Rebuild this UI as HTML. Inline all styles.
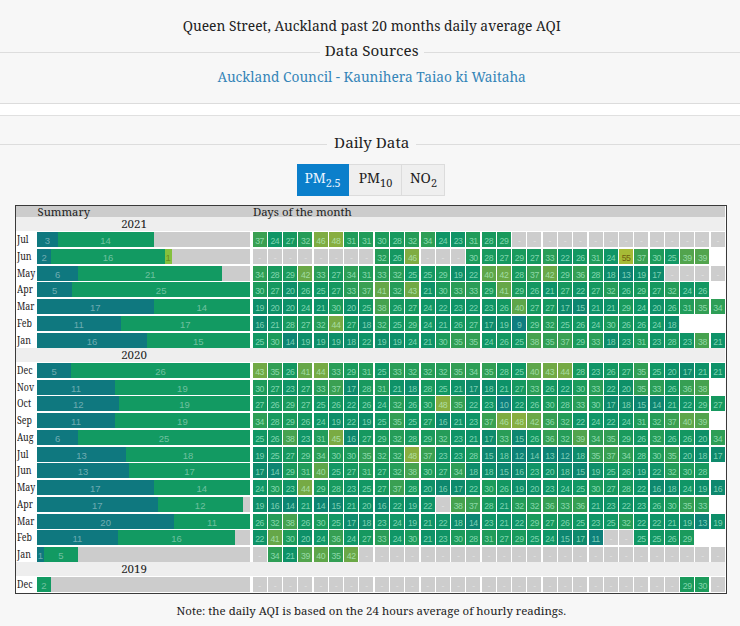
<!DOCTYPE html>
<html><head><meta charset="utf-8">
<style>
html,body{margin:0;padding:0;}
body{width:740px;height:626px;overflow:hidden;position:relative;background:#fff;font-family:"Noto Serif","DejaVu Serif","Liberation Serif",serif;color:#222;}
.p1{position:absolute;left:0;top:0;width:740px;height:102.6px;background:#f7f7f7;border-bottom:1.5px solid #dcdcdc;}
.p2{position:absolute;left:0;top:115px;width:740px;height:520px;background:#f7f7f7;border-top:1.5px solid #e0e0e0;}
.t{position:absolute;left:0.7px;width:742px;text-align:center;white-space:nowrap;line-height:1;}
.hr{position:absolute;height:1px;background:#dddddd;}
.btn{position:absolute;top:164.2px;height:32.2px;box-sizing:border-box;line-height:1;}
.tbl{position:absolute;left:15px;top:204.5px;width:712px;height:389.00px;box-sizing:border-box;border:1.4px solid #3a3a3a;background:#fff;}
.hdr{position:absolute;left:16.40px;top:206.2px;width:708.40px;height:11.10px;background:#cccccc;}
.tbl2 div{position:absolute;box-sizing:border-box;overflow:hidden;white-space:nowrap;}
.yr{background:#eeeeee;font-size:11.5px;line-height:14.6px;}
.yr span{position:absolute;left:104.8px;top:-0.6px;}
.lab{font-size:10.2px;line-height:14.6px;color:#222;overflow:visible!important;}
.fx{display:inline-block;transform-origin:50% 50%;}
.fl{transform:scaleX(0.87);transform-origin:0 50%;}
.fxl{transform-origin:0 50%;}
.sbg{background:#cccccc;}
.seg{font-family:"Liberation Sans",Arial,sans-serif;font-size:9.5px;line-height:18px;text-align:center;color:rgba(255,255,255,0.4);}
.dc{font-family:"Liberation Sans",Arial,sans-serif;font-size:8.7px;letter-spacing:-0.45px;line-height:18.6px;text-align:center;color:rgba(200,255,225,0.6);}
.dc.hi{color:rgba(90,60,0,0.75);}
.dc.miss{background:#cdcdcd;color:#e2e2e2;}
</style></head><body>
<div class="p1"></div>
<div class="p2"></div>
<div class="t" style="top:18.9px;font-size:13.82px;"><span class="fx" id="ttl">Queen Street, Auckland past 20 months daily average AQI</span></div>
<div class="hr" style="left:0;top:52px;width:320px"></div>
<div class="hr" style="left:423.5px;top:52px;width:317px"></div>
<div class="t" style="top:42.8px;font-size:15.2px;"><span class="fx">Data Sources</span></div>
<div class="t" style="top:69.7px;font-size:13.7px;color:#3585b8;"><span class="fx">Auckland Council - Kaunihera Taiao ki Waitaha</span></div>
<div class="hr" style="left:0;top:144.3px;width:326.5px"></div>
<div class="hr" style="left:415.8px;top:144.3px;width:325px"></div>
<div class="t" style="top:135.4px;font-size:15.2px;"><span class="fx">Daily Data</span></div>
<div class="btn" style="left:297.4px;width:51.8px;background:#0b7fcb;color:#eaf4ff;font-size:13.9px;padding:7.1px 0 0 7.0px;"><span class="fx fxl">PM<sub style="font-size:10.9px;vertical-align:-3.5px">2.5</sub></span></div>
<div class="btn" style="left:349.2px;width:52.4px;background:#efefef;border:1px solid #dcdcdc;border-left:none;font-size:13.9px;padding:6.1px 0 0 9.5px;"><span class="fx fxl">PM<sub style="font-size:10.9px;vertical-align:-3.5px">10</sub></span></div>
<div class="btn" style="left:401.6px;width:43.4px;background:#efefef;border:1px solid #dcdcdc;border-left:none;font-size:13.9px;padding:6.1px 0 0 8.4px;"><span class="fx fxl">NO<sub style="font-size:10.9px;vertical-align:-3.5px">2</sub></span></div>
<div class="tbl"></div>
<div class="hdr"></div>
<div class="t" style="z-index:2;left:37.6px;width:auto;top:205.9px;font-size:11.25px;text-align:left"><span class="fx fxl">Summary</span></div>
<div class="t" style="z-index:2;left:252.9px;width:auto;top:205.8px;font-size:11.4px;text-align:left"><span class="fx fxl">Days of the month</span></div>
<div class="tbl2">
<div class="yr" style="left:16.40px;top:217.30px;width:708.40px;height:14.10px;"><span class="fx fxl">2021</span></div>
<div class="lab" style="left:17.20px;top:232.10px;width:20.00px;height:15.00px;"><span class="fx fl">Jul</span></div>
<div class="sbg" style="left:37.00px;top:232.10px;width:212.80px;height:15.00px;"></div>
<div class="seg" style="left:37.00px;top:232.10px;width:20.59px;height:15.00px;background:#0f787f">3</div>
<div class="seg" style="left:57.59px;top:232.10px;width:96.10px;height:15.00px;background:#129a62">14</div>
<div class="dc" style="left:252.60px;top:232.10px;width:14.00px;height:15.00px;background:#3aa052">37</div>
<div class="dc" style="left:267.87px;top:232.10px;width:14.00px;height:15.00px;background:#109666">24</div>
<div class="dc" style="left:283.14px;top:232.10px;width:14.00px;height:15.00px;background:#16985f">27</div>
<div class="dc" style="left:298.41px;top:232.10px;width:14.00px;height:15.00px;background:#259c58">32</div>
<div class="dc" style="left:313.68px;top:232.10px;width:14.00px;height:15.00px;background:#7fac42">46</div>
<div class="dc" style="left:328.95px;top:232.10px;width:14.00px;height:15.00px;background:#88ae40">48</div>
<div class="dc" style="left:344.22px;top:232.10px;width:14.00px;height:15.00px;background:#219c5a">31</div>
<div class="dc" style="left:359.49px;top:232.10px;width:14.00px;height:15.00px;background:#219c5a">31</div>
<div class="dc" style="left:374.76px;top:232.10px;width:14.00px;height:15.00px;background:#1c9b5b">30</div>
<div class="dc" style="left:390.03px;top:232.10px;width:14.00px;height:15.00px;background:#18995e">28</div>
<div class="dc" style="left:405.30px;top:232.10px;width:14.00px;height:15.00px;background:#259c58">32</div>
<div class="dc" style="left:420.57px;top:232.10px;width:14.00px;height:15.00px;background:#2e9e56">34</div>
<div class="dc" style="left:435.84px;top:232.10px;width:14.00px;height:15.00px;background:#109666">24</div>
<div class="dc" style="left:451.11px;top:232.10px;width:14.00px;height:15.00px;background:#109466">23</div>
<div class="dc" style="left:466.38px;top:232.10px;width:14.00px;height:15.00px;background:#219c5a">31</div>
<div class="dc" style="left:481.65px;top:232.10px;width:14.00px;height:15.00px;background:#18995e">28</div>
<div class="dc" style="left:496.92px;top:232.10px;width:14.00px;height:15.00px;background:#1a9a5c">29</div>
<div class="dc miss" style="left:512.19px;top:232.10px;width:14.00px;height:15.00px;">-</div>
<div class="dc miss" style="left:527.46px;top:232.10px;width:14.00px;height:15.00px;">-</div>
<div class="dc miss" style="left:542.73px;top:232.10px;width:14.00px;height:15.00px;">-</div>
<div class="dc miss" style="left:558.00px;top:232.10px;width:14.00px;height:15.00px;">-</div>
<div class="dc miss" style="left:573.27px;top:232.10px;width:14.00px;height:15.00px;">-</div>
<div class="dc miss" style="left:588.54px;top:232.10px;width:14.00px;height:15.00px;">-</div>
<div class="dc miss" style="left:603.81px;top:232.10px;width:14.00px;height:15.00px;">-</div>
<div class="dc miss" style="left:619.08px;top:232.10px;width:14.00px;height:15.00px;">-</div>
<div class="dc miss" style="left:634.35px;top:232.10px;width:14.00px;height:15.00px;">-</div>
<div class="dc miss" style="left:649.62px;top:232.10px;width:14.00px;height:15.00px;">-</div>
<div class="dc miss" style="left:664.89px;top:232.10px;width:14.00px;height:15.00px;">-</div>
<div class="dc miss" style="left:680.16px;top:232.10px;width:14.00px;height:15.00px;">-</div>
<div class="dc miss" style="left:695.43px;top:232.10px;width:14.00px;height:15.00px;">-</div>
<div class="dc miss" style="left:710.70px;top:232.10px;width:14.00px;height:15.00px;">-</div>
<div class="lab" style="left:17.20px;top:248.85px;width:20.00px;height:15.00px;"><span class="fx fl">Jun</span></div>
<div class="sbg" style="left:37.00px;top:248.85px;width:212.80px;height:15.00px;"></div>
<div class="seg" style="left:37.00px;top:248.85px;width:14.19px;height:15.00px;background:#0f787f">2</div>
<div class="seg" style="left:51.19px;top:248.85px;width:113.49px;height:15.00px;background:#129a62">16</div>
<div class="seg" style="left:164.68px;top:248.85px;width:7.09px;height:15.00px;background:#84c03e;color:rgba(90,90,0,0.55)">1</div>
<div class="dc miss" style="left:252.60px;top:248.85px;width:14.00px;height:15.00px;">-</div>
<div class="dc miss" style="left:267.87px;top:248.85px;width:14.00px;height:15.00px;">-</div>
<div class="dc miss" style="left:283.14px;top:248.85px;width:14.00px;height:15.00px;">-</div>
<div class="dc miss" style="left:298.41px;top:248.85px;width:14.00px;height:15.00px;">-</div>
<div class="dc miss" style="left:313.68px;top:248.85px;width:14.00px;height:15.00px;">-</div>
<div class="dc miss" style="left:328.95px;top:248.85px;width:14.00px;height:15.00px;">-</div>
<div class="dc miss" style="left:344.22px;top:248.85px;width:14.00px;height:15.00px;">-</div>
<div class="dc miss" style="left:359.49px;top:248.85px;width:14.00px;height:15.00px;">-</div>
<div class="dc" style="left:374.76px;top:248.85px;width:14.00px;height:15.00px;background:#259c58">32</div>
<div class="dc" style="left:390.03px;top:248.85px;width:14.00px;height:15.00px;background:#149761">26</div>
<div class="dc" style="left:405.30px;top:248.85px;width:14.00px;height:15.00px;background:#7fac42">46</div>
<div class="dc miss" style="left:420.57px;top:248.85px;width:14.00px;height:15.00px;">-</div>
<div class="dc miss" style="left:435.84px;top:248.85px;width:14.00px;height:15.00px;">-</div>
<div class="dc miss" style="left:451.11px;top:248.85px;width:14.00px;height:15.00px;">-</div>
<div class="dc" style="left:466.38px;top:248.85px;width:14.00px;height:15.00px;background:#1c9b5b">30</div>
<div class="dc" style="left:481.65px;top:248.85px;width:14.00px;height:15.00px;background:#18995e">28</div>
<div class="dc" style="left:496.92px;top:248.85px;width:14.00px;height:15.00px;background:#16985f">27</div>
<div class="dc" style="left:512.19px;top:248.85px;width:14.00px;height:15.00px;background:#1a9a5c">29</div>
<div class="dc" style="left:527.46px;top:248.85px;width:14.00px;height:15.00px;background:#16985f">27</div>
<div class="dc" style="left:542.73px;top:248.85px;width:14.00px;height:15.00px;background:#2a9d57">33</div>
<div class="dc" style="left:558.00px;top:248.85px;width:14.00px;height:15.00px;background:#0f9367">22</div>
<div class="dc" style="left:573.27px;top:248.85px;width:14.00px;height:15.00px;background:#149761">26</div>
<div class="dc" style="left:588.54px;top:248.85px;width:14.00px;height:15.00px;background:#219c5a">31</div>
<div class="dc" style="left:603.81px;top:248.85px;width:14.00px;height:15.00px;background:#109666">24</div>
<div class="dc hi" style="left:619.08px;top:248.85px;width:14.00px;height:15.00px;background:#a6ba36">55</div>
<div class="dc" style="left:634.35px;top:248.85px;width:14.00px;height:15.00px;background:#3aa052">37</div>
<div class="dc" style="left:649.62px;top:248.85px;width:14.00px;height:15.00px;background:#1c9b5b">30</div>
<div class="dc" style="left:664.89px;top:248.85px;width:14.00px;height:15.00px;background:#129764">25</div>
<div class="dc" style="left:680.16px;top:248.85px;width:14.00px;height:15.00px;background:#52a44d">39</div>
<div class="dc" style="left:695.43px;top:248.85px;width:14.00px;height:15.00px;background:#52a44d">39</div>
<div class="lab" style="left:17.20px;top:265.60px;width:20.00px;height:15.00px;"><span class="fx fl">May</span></div>
<div class="sbg" style="left:37.00px;top:265.60px;width:212.80px;height:15.00px;"></div>
<div class="seg" style="left:37.00px;top:265.60px;width:41.19px;height:15.00px;background:#0f787f">6</div>
<div class="seg" style="left:78.19px;top:265.60px;width:144.15px;height:15.00px;background:#129a62">21</div>
<div class="dc" style="left:252.60px;top:265.60px;width:14.00px;height:15.00px;background:#2e9e56">34</div>
<div class="dc" style="left:267.87px;top:265.60px;width:14.00px;height:15.00px;background:#18995e">28</div>
<div class="dc" style="left:283.14px;top:265.60px;width:14.00px;height:15.00px;background:#1a9a5c">29</div>
<div class="dc" style="left:298.41px;top:265.60px;width:14.00px;height:15.00px;background:#6ba847">42</div>
<div class="dc" style="left:313.68px;top:265.60px;width:14.00px;height:15.00px;background:#2a9d57">33</div>
<div class="dc" style="left:328.95px;top:265.60px;width:14.00px;height:15.00px;background:#16985f">27</div>
<div class="dc" style="left:344.22px;top:265.60px;width:14.00px;height:15.00px;background:#2e9e56">34</div>
<div class="dc" style="left:359.49px;top:265.60px;width:14.00px;height:15.00px;background:#219c5a">31</div>
<div class="dc" style="left:374.76px;top:265.60px;width:14.00px;height:15.00px;background:#2a9d57">33</div>
<div class="dc" style="left:390.03px;top:265.60px;width:14.00px;height:15.00px;background:#259c58">32</div>
<div class="dc" style="left:405.30px;top:265.60px;width:14.00px;height:15.00px;background:#129764">25</div>
<div class="dc" style="left:420.57px;top:265.60px;width:14.00px;height:15.00px;background:#129764">25</div>
<div class="dc" style="left:435.84px;top:265.60px;width:14.00px;height:15.00px;background:#1a9a5c">29</div>
<div class="dc" style="left:451.11px;top:265.60px;width:14.00px;height:15.00px;background:#0e8e69">19</div>
<div class="dc" style="left:466.38px;top:265.60px;width:14.00px;height:15.00px;background:#0f9367">22</div>
<div class="dc" style="left:481.65px;top:265.60px;width:14.00px;height:15.00px;background:#5ea64a">40</div>
<div class="dc" style="left:496.92px;top:265.60px;width:14.00px;height:15.00px;background:#6ba847">42</div>
<div class="dc" style="left:512.19px;top:265.60px;width:14.00px;height:15.00px;background:#18995e">28</div>
<div class="dc" style="left:527.46px;top:265.60px;width:14.00px;height:15.00px;background:#3aa052">37</div>
<div class="dc" style="left:542.73px;top:265.60px;width:14.00px;height:15.00px;background:#6ba847">42</div>
<div class="dc" style="left:558.00px;top:265.60px;width:14.00px;height:15.00px;background:#1a9a5c">29</div>
<div class="dc" style="left:573.27px;top:265.60px;width:14.00px;height:15.00px;background:#369f53">36</div>
<div class="dc" style="left:588.54px;top:265.60px;width:14.00px;height:15.00px;background:#18995e">28</div>
<div class="dc" style="left:603.81px;top:265.60px;width:14.00px;height:15.00px;background:#0e8c6b">18</div>
<div class="dc" style="left:619.08px;top:265.60px;width:14.00px;height:15.00px;background:#0d8374">13</div>
<div class="dc" style="left:634.35px;top:265.60px;width:14.00px;height:15.00px;background:#0e8e69">19</div>
<div class="dc" style="left:649.62px;top:265.60px;width:14.00px;height:15.00px;background:#0e8a6c">17</div>
<div class="dc miss" style="left:664.89px;top:265.60px;width:14.00px;height:15.00px;">-</div>
<div class="dc miss" style="left:680.16px;top:265.60px;width:14.00px;height:15.00px;">-</div>
<div class="dc miss" style="left:695.43px;top:265.60px;width:14.00px;height:15.00px;">-</div>
<div class="dc miss" style="left:710.70px;top:265.60px;width:14.00px;height:15.00px;">-</div>
<div class="lab" style="left:17.20px;top:282.35px;width:20.00px;height:15.00px;"><span class="fx fl">Apr</span></div>
<div class="sbg" style="left:37.00px;top:282.35px;width:212.80px;height:15.00px;"></div>
<div class="seg" style="left:37.00px;top:282.35px;width:35.47px;height:15.00px;background:#0f787f">5</div>
<div class="seg" style="left:72.47px;top:282.35px;width:177.33px;height:15.00px;background:#129a62">25</div>
<div class="dc" style="left:252.60px;top:282.35px;width:14.00px;height:15.00px;background:#1c9b5b">30</div>
<div class="dc" style="left:267.87px;top:282.35px;width:14.00px;height:15.00px;background:#16985f">27</div>
<div class="dc" style="left:283.14px;top:282.35px;width:14.00px;height:15.00px;background:#0e9068">20</div>
<div class="dc" style="left:298.41px;top:282.35px;width:14.00px;height:15.00px;background:#149761">26</div>
<div class="dc" style="left:313.68px;top:282.35px;width:14.00px;height:15.00px;background:#129764">25</div>
<div class="dc" style="left:328.95px;top:282.35px;width:14.00px;height:15.00px;background:#16985f">27</div>
<div class="dc" style="left:344.22px;top:282.35px;width:14.00px;height:15.00px;background:#2a9d57">33</div>
<div class="dc" style="left:359.49px;top:282.35px;width:14.00px;height:15.00px;background:#3aa052">37</div>
<div class="dc" style="left:374.76px;top:282.35px;width:14.00px;height:15.00px;background:#66a748">41</div>
<div class="dc" style="left:390.03px;top:282.35px;width:14.00px;height:15.00px;background:#259c58">32</div>
<div class="dc" style="left:405.30px;top:282.35px;width:14.00px;height:15.00px;background:#71a945">43</div>
<div class="dc" style="left:420.57px;top:282.35px;width:14.00px;height:15.00px;background:#0e9268">21</div>
<div class="dc" style="left:435.84px;top:282.35px;width:14.00px;height:15.00px;background:#1c9b5b">30</div>
<div class="dc" style="left:451.11px;top:282.35px;width:14.00px;height:15.00px;background:#2a9d57">33</div>
<div class="dc" style="left:466.38px;top:282.35px;width:14.00px;height:15.00px;background:#2a9d57">33</div>
<div class="dc" style="left:481.65px;top:282.35px;width:14.00px;height:15.00px;background:#1a9a5c">29</div>
<div class="dc" style="left:496.92px;top:282.35px;width:14.00px;height:15.00px;background:#66a748">41</div>
<div class="dc" style="left:512.19px;top:282.35px;width:14.00px;height:15.00px;background:#1a9a5c">29</div>
<div class="dc" style="left:527.46px;top:282.35px;width:14.00px;height:15.00px;background:#149761">26</div>
<div class="dc" style="left:542.73px;top:282.35px;width:14.00px;height:15.00px;background:#0e9268">21</div>
<div class="dc" style="left:558.00px;top:282.35px;width:14.00px;height:15.00px;background:#16985f">27</div>
<div class="dc" style="left:573.27px;top:282.35px;width:14.00px;height:15.00px;background:#0f9367">22</div>
<div class="dc" style="left:588.54px;top:282.35px;width:14.00px;height:15.00px;background:#16985f">27</div>
<div class="dc" style="left:603.81px;top:282.35px;width:14.00px;height:15.00px;background:#259c58">32</div>
<div class="dc" style="left:619.08px;top:282.35px;width:14.00px;height:15.00px;background:#149761">26</div>
<div class="dc" style="left:634.35px;top:282.35px;width:14.00px;height:15.00px;background:#1a9a5c">29</div>
<div class="dc" style="left:649.62px;top:282.35px;width:14.00px;height:15.00px;background:#16985f">27</div>
<div class="dc" style="left:664.89px;top:282.35px;width:14.00px;height:15.00px;background:#259c58">32</div>
<div class="dc" style="left:680.16px;top:282.35px;width:14.00px;height:15.00px;background:#109666">24</div>
<div class="dc" style="left:695.43px;top:282.35px;width:14.00px;height:15.00px;background:#149761">26</div>
<div class="lab" style="left:17.20px;top:299.10px;width:20.00px;height:15.00px;"><span class="fx fl">Mar</span></div>
<div class="sbg" style="left:37.00px;top:299.10px;width:212.80px;height:15.00px;"></div>
<div class="seg" style="left:37.00px;top:299.10px;width:116.70px;height:15.00px;background:#0f787f">17</div>
<div class="seg" style="left:153.70px;top:299.10px;width:96.10px;height:15.00px;background:#129a62">14</div>
<div class="dc" style="left:252.60px;top:299.10px;width:14.00px;height:15.00px;background:#0e8e69">19</div>
<div class="dc" style="left:267.87px;top:299.10px;width:14.00px;height:15.00px;background:#0e9068">20</div>
<div class="dc" style="left:283.14px;top:299.10px;width:14.00px;height:15.00px;background:#0e9068">20</div>
<div class="dc" style="left:298.41px;top:299.10px;width:14.00px;height:15.00px;background:#109666">24</div>
<div class="dc" style="left:313.68px;top:299.10px;width:14.00px;height:15.00px;background:#0e9268">21</div>
<div class="dc" style="left:328.95px;top:299.10px;width:14.00px;height:15.00px;background:#1c9b5b">30</div>
<div class="dc" style="left:344.22px;top:299.10px;width:14.00px;height:15.00px;background:#0e9068">20</div>
<div class="dc" style="left:359.49px;top:299.10px;width:14.00px;height:15.00px;background:#129764">25</div>
<div class="dc" style="left:374.76px;top:299.10px;width:14.00px;height:15.00px;background:#46a24f">38</div>
<div class="dc" style="left:390.03px;top:299.10px;width:14.00px;height:15.00px;background:#149761">26</div>
<div class="dc" style="left:405.30px;top:299.10px;width:14.00px;height:15.00px;background:#16985f">27</div>
<div class="dc" style="left:420.57px;top:299.10px;width:14.00px;height:15.00px;background:#109666">24</div>
<div class="dc" style="left:435.84px;top:299.10px;width:14.00px;height:15.00px;background:#0f9367">22</div>
<div class="dc" style="left:451.11px;top:299.10px;width:14.00px;height:15.00px;background:#109466">23</div>
<div class="dc" style="left:466.38px;top:299.10px;width:14.00px;height:15.00px;background:#0f9367">22</div>
<div class="dc" style="left:481.65px;top:299.10px;width:14.00px;height:15.00px;background:#109466">23</div>
<div class="dc" style="left:496.92px;top:299.10px;width:14.00px;height:15.00px;background:#149761">26</div>
<div class="dc" style="left:512.19px;top:299.10px;width:14.00px;height:15.00px;background:#5ea64a">40</div>
<div class="dc" style="left:527.46px;top:299.10px;width:14.00px;height:15.00px;background:#16985f">27</div>
<div class="dc" style="left:542.73px;top:299.10px;width:14.00px;height:15.00px;background:#16985f">27</div>
<div class="dc" style="left:558.00px;top:299.10px;width:14.00px;height:15.00px;background:#0e8a6c">17</div>
<div class="dc" style="left:573.27px;top:299.10px;width:14.00px;height:15.00px;background:#0e8670">15</div>
<div class="dc" style="left:588.54px;top:299.10px;width:14.00px;height:15.00px;background:#0e9268">21</div>
<div class="dc" style="left:603.81px;top:299.10px;width:14.00px;height:15.00px;background:#0e9268">21</div>
<div class="dc" style="left:619.08px;top:299.10px;width:14.00px;height:15.00px;background:#1a9a5c">29</div>
<div class="dc" style="left:634.35px;top:299.10px;width:14.00px;height:15.00px;background:#109666">24</div>
<div class="dc" style="left:649.62px;top:299.10px;width:14.00px;height:15.00px;background:#0e9068">20</div>
<div class="dc" style="left:664.89px;top:299.10px;width:14.00px;height:15.00px;background:#149761">26</div>
<div class="dc" style="left:680.16px;top:299.10px;width:14.00px;height:15.00px;background:#219c5a">31</div>
<div class="dc" style="left:695.43px;top:299.10px;width:14.00px;height:15.00px;background:#329e54">35</div>
<div class="dc" style="left:710.70px;top:299.10px;width:14.00px;height:15.00px;background:#2e9e56">34</div>
<div class="lab" style="left:17.20px;top:315.85px;width:20.00px;height:15.00px;"><span class="fx fl">Feb</span></div>
<div class="sbg" style="left:37.00px;top:315.85px;width:212.80px;height:15.00px;"></div>
<div class="seg" style="left:37.00px;top:315.85px;width:83.60px;height:15.00px;background:#0f787f">11</div>
<div class="seg" style="left:120.60px;top:315.85px;width:129.20px;height:15.00px;background:#129a62">17</div>
<div class="dc" style="left:252.60px;top:315.85px;width:14.00px;height:15.00px;background:#0e886e">16</div>
<div class="dc" style="left:267.87px;top:315.85px;width:14.00px;height:15.00px;background:#0e9268">21</div>
<div class="dc" style="left:283.14px;top:315.85px;width:14.00px;height:15.00px;background:#18995e">28</div>
<div class="dc" style="left:298.41px;top:315.85px;width:14.00px;height:15.00px;background:#16985f">27</div>
<div class="dc" style="left:313.68px;top:315.85px;width:14.00px;height:15.00px;background:#259c58">32</div>
<div class="dc" style="left:328.95px;top:315.85px;width:14.00px;height:15.00px;background:#76aa44">44</div>
<div class="dc" style="left:344.22px;top:315.85px;width:14.00px;height:15.00px;background:#16985f">27</div>
<div class="dc" style="left:359.49px;top:315.85px;width:14.00px;height:15.00px;background:#0e8c6b">18</div>
<div class="dc" style="left:374.76px;top:315.85px;width:14.00px;height:15.00px;background:#259c58">32</div>
<div class="dc" style="left:390.03px;top:315.85px;width:14.00px;height:15.00px;background:#129764">25</div>
<div class="dc" style="left:405.30px;top:315.85px;width:14.00px;height:15.00px;background:#1a9a5c">29</div>
<div class="dc" style="left:420.57px;top:315.85px;width:14.00px;height:15.00px;background:#109666">24</div>
<div class="dc" style="left:435.84px;top:315.85px;width:14.00px;height:15.00px;background:#0e9268">21</div>
<div class="dc" style="left:451.11px;top:315.85px;width:14.00px;height:15.00px;background:#149761">26</div>
<div class="dc" style="left:466.38px;top:315.85px;width:14.00px;height:15.00px;background:#16985f">27</div>
<div class="dc" style="left:481.65px;top:315.85px;width:14.00px;height:15.00px;background:#0e8a6c">17</div>
<div class="dc" style="left:496.92px;top:315.85px;width:14.00px;height:15.00px;background:#0e8e69">19</div>
<div class="dc" style="left:512.19px;top:315.85px;width:14.00px;height:15.00px;background:#0f7d80">9</div>
<div class="dc" style="left:527.46px;top:315.85px;width:14.00px;height:15.00px;background:#1a9a5c">29</div>
<div class="dc" style="left:542.73px;top:315.85px;width:14.00px;height:15.00px;background:#259c58">32</div>
<div class="dc" style="left:558.00px;top:315.85px;width:14.00px;height:15.00px;background:#129764">25</div>
<div class="dc" style="left:573.27px;top:315.85px;width:14.00px;height:15.00px;background:#149761">26</div>
<div class="dc" style="left:588.54px;top:315.85px;width:14.00px;height:15.00px;background:#109666">24</div>
<div class="dc" style="left:603.81px;top:315.85px;width:14.00px;height:15.00px;background:#1c9b5b">30</div>
<div class="dc" style="left:619.08px;top:315.85px;width:14.00px;height:15.00px;background:#149761">26</div>
<div class="dc" style="left:634.35px;top:315.85px;width:14.00px;height:15.00px;background:#149761">26</div>
<div class="dc" style="left:649.62px;top:315.85px;width:14.00px;height:15.00px;background:#109666">24</div>
<div class="dc" style="left:664.89px;top:315.85px;width:14.00px;height:15.00px;background:#0e8c6b">18</div>
<div class="lab" style="left:17.20px;top:332.60px;width:20.00px;height:15.00px;"><span class="fx fl">Jan</span></div>
<div class="sbg" style="left:37.00px;top:332.60px;width:212.80px;height:15.00px;"></div>
<div class="seg" style="left:37.00px;top:332.60px;width:109.83px;height:15.00px;background:#0f787f">16</div>
<div class="seg" style="left:146.83px;top:332.60px;width:102.97px;height:15.00px;background:#129a62">15</div>
<div class="dc" style="left:252.60px;top:332.60px;width:14.00px;height:15.00px;background:#129764">25</div>
<div class="dc" style="left:267.87px;top:332.60px;width:14.00px;height:15.00px;background:#1c9b5b">30</div>
<div class="dc" style="left:283.14px;top:332.60px;width:14.00px;height:15.00px;background:#0d8572">14</div>
<div class="dc" style="left:298.41px;top:332.60px;width:14.00px;height:15.00px;background:#0e8e69">19</div>
<div class="dc" style="left:313.68px;top:332.60px;width:14.00px;height:15.00px;background:#0e8e69">19</div>
<div class="dc" style="left:328.95px;top:332.60px;width:14.00px;height:15.00px;background:#0e8e69">19</div>
<div class="dc" style="left:344.22px;top:332.60px;width:14.00px;height:15.00px;background:#0e8c6b">18</div>
<div class="dc" style="left:359.49px;top:332.60px;width:14.00px;height:15.00px;background:#0f9367">22</div>
<div class="dc" style="left:374.76px;top:332.60px;width:14.00px;height:15.00px;background:#0e8e69">19</div>
<div class="dc" style="left:390.03px;top:332.60px;width:14.00px;height:15.00px;background:#0e8e69">19</div>
<div class="dc" style="left:405.30px;top:332.60px;width:14.00px;height:15.00px;background:#109666">24</div>
<div class="dc" style="left:420.57px;top:332.60px;width:14.00px;height:15.00px;background:#0e9268">21</div>
<div class="dc" style="left:435.84px;top:332.60px;width:14.00px;height:15.00px;background:#1c9b5b">30</div>
<div class="dc" style="left:451.11px;top:332.60px;width:14.00px;height:15.00px;background:#329e54">35</div>
<div class="dc" style="left:466.38px;top:332.60px;width:14.00px;height:15.00px;background:#329e54">35</div>
<div class="dc" style="left:481.65px;top:332.60px;width:14.00px;height:15.00px;background:#109666">24</div>
<div class="dc" style="left:496.92px;top:332.60px;width:14.00px;height:15.00px;background:#149761">26</div>
<div class="dc" style="left:512.19px;top:332.60px;width:14.00px;height:15.00px;background:#129764">25</div>
<div class="dc" style="left:527.46px;top:332.60px;width:14.00px;height:15.00px;background:#46a24f">38</div>
<div class="dc" style="left:542.73px;top:332.60px;width:14.00px;height:15.00px;background:#329e54">35</div>
<div class="dc" style="left:558.00px;top:332.60px;width:14.00px;height:15.00px;background:#3aa052">37</div>
<div class="dc" style="left:573.27px;top:332.60px;width:14.00px;height:15.00px;background:#1a9a5c">29</div>
<div class="dc" style="left:588.54px;top:332.60px;width:14.00px;height:15.00px;background:#2a9d57">33</div>
<div class="dc" style="left:603.81px;top:332.60px;width:14.00px;height:15.00px;background:#0e8c6b">18</div>
<div class="dc" style="left:619.08px;top:332.60px;width:14.00px;height:15.00px;background:#109466">23</div>
<div class="dc" style="left:634.35px;top:332.60px;width:14.00px;height:15.00px;background:#219c5a">31</div>
<div class="dc" style="left:649.62px;top:332.60px;width:14.00px;height:15.00px;background:#109466">23</div>
<div class="dc" style="left:664.89px;top:332.60px;width:14.00px;height:15.00px;background:#18995e">28</div>
<div class="dc" style="left:680.16px;top:332.60px;width:14.00px;height:15.00px;background:#109466">23</div>
<div class="dc" style="left:695.43px;top:332.60px;width:14.00px;height:15.00px;background:#46a24f">38</div>
<div class="dc" style="left:710.70px;top:332.60px;width:14.00px;height:15.00px;background:#0e9268">21</div>
<div class="yr" style="left:16.40px;top:348.30px;width:708.40px;height:13.90px;"><span class="fx fxl">2020</span></div>
<div class="lab" style="left:17.20px;top:362.90px;width:20.00px;height:15.00px;"><span class="fx fl">Dec</span></div>
<div class="sbg" style="left:37.00px;top:362.90px;width:212.80px;height:15.00px;"></div>
<div class="seg" style="left:37.00px;top:362.90px;width:34.32px;height:15.00px;background:#0f787f">5</div>
<div class="seg" style="left:71.32px;top:362.90px;width:178.48px;height:15.00px;background:#129a62">26</div>
<div class="dc" style="left:252.60px;top:362.90px;width:14.00px;height:15.00px;background:#71a945">43</div>
<div class="dc" style="left:267.87px;top:362.90px;width:14.00px;height:15.00px;background:#329e54">35</div>
<div class="dc" style="left:283.14px;top:362.90px;width:14.00px;height:15.00px;background:#149761">26</div>
<div class="dc" style="left:298.41px;top:362.90px;width:14.00px;height:15.00px;background:#66a748">41</div>
<div class="dc" style="left:313.68px;top:362.90px;width:14.00px;height:15.00px;background:#76aa44">44</div>
<div class="dc" style="left:328.95px;top:362.90px;width:14.00px;height:15.00px;background:#2a9d57">33</div>
<div class="dc" style="left:344.22px;top:362.90px;width:14.00px;height:15.00px;background:#1a9a5c">29</div>
<div class="dc" style="left:359.49px;top:362.90px;width:14.00px;height:15.00px;background:#219c5a">31</div>
<div class="dc" style="left:374.76px;top:362.90px;width:14.00px;height:15.00px;background:#129764">25</div>
<div class="dc" style="left:390.03px;top:362.90px;width:14.00px;height:15.00px;background:#2a9d57">33</div>
<div class="dc" style="left:405.30px;top:362.90px;width:14.00px;height:15.00px;background:#259c58">32</div>
<div class="dc" style="left:420.57px;top:362.90px;width:14.00px;height:15.00px;background:#259c58">32</div>
<div class="dc" style="left:435.84px;top:362.90px;width:14.00px;height:15.00px;background:#259c58">32</div>
<div class="dc" style="left:451.11px;top:362.90px;width:14.00px;height:15.00px;background:#329e54">35</div>
<div class="dc" style="left:466.38px;top:362.90px;width:14.00px;height:15.00px;background:#2e9e56">34</div>
<div class="dc" style="left:481.65px;top:362.90px;width:14.00px;height:15.00px;background:#329e54">35</div>
<div class="dc" style="left:496.92px;top:362.90px;width:14.00px;height:15.00px;background:#18995e">28</div>
<div class="dc" style="left:512.19px;top:362.90px;width:14.00px;height:15.00px;background:#129764">25</div>
<div class="dc" style="left:527.46px;top:362.90px;width:14.00px;height:15.00px;background:#5ea64a">40</div>
<div class="dc" style="left:542.73px;top:362.90px;width:14.00px;height:15.00px;background:#71a945">43</div>
<div class="dc" style="left:558.00px;top:362.90px;width:14.00px;height:15.00px;background:#76aa44">44</div>
<div class="dc" style="left:573.27px;top:362.90px;width:14.00px;height:15.00px;background:#18995e">28</div>
<div class="dc" style="left:588.54px;top:362.90px;width:14.00px;height:15.00px;background:#109466">23</div>
<div class="dc" style="left:603.81px;top:362.90px;width:14.00px;height:15.00px;background:#149761">26</div>
<div class="dc" style="left:619.08px;top:362.90px;width:14.00px;height:15.00px;background:#16985f">27</div>
<div class="dc" style="left:634.35px;top:362.90px;width:14.00px;height:15.00px;background:#329e54">35</div>
<div class="dc" style="left:649.62px;top:362.90px;width:14.00px;height:15.00px;background:#129764">25</div>
<div class="dc" style="left:664.89px;top:362.90px;width:14.00px;height:15.00px;background:#0e9068">20</div>
<div class="dc" style="left:680.16px;top:362.90px;width:14.00px;height:15.00px;background:#0e8a6c">17</div>
<div class="dc" style="left:695.43px;top:362.90px;width:14.00px;height:15.00px;background:#0e9268">21</div>
<div class="dc" style="left:710.70px;top:362.90px;width:14.00px;height:15.00px;background:#0e9268">21</div>
<div class="lab" style="left:17.20px;top:379.65px;width:20.00px;height:15.00px;"><span class="fx fl">Nov</span></div>
<div class="sbg" style="left:37.00px;top:379.65px;width:212.80px;height:15.00px;"></div>
<div class="seg" style="left:37.00px;top:379.65px;width:78.03px;height:15.00px;background:#0f787f">11</div>
<div class="seg" style="left:115.03px;top:379.65px;width:134.77px;height:15.00px;background:#129a62">19</div>
<div class="dc" style="left:252.60px;top:379.65px;width:14.00px;height:15.00px;background:#1c9b5b">30</div>
<div class="dc" style="left:267.87px;top:379.65px;width:14.00px;height:15.00px;background:#16985f">27</div>
<div class="dc" style="left:283.14px;top:379.65px;width:14.00px;height:15.00px;background:#109466">23</div>
<div class="dc" style="left:298.41px;top:379.65px;width:14.00px;height:15.00px;background:#16985f">27</div>
<div class="dc" style="left:313.68px;top:379.65px;width:14.00px;height:15.00px;background:#2a9d57">33</div>
<div class="dc" style="left:328.95px;top:379.65px;width:14.00px;height:15.00px;background:#3aa052">37</div>
<div class="dc" style="left:344.22px;top:379.65px;width:14.00px;height:15.00px;background:#0e8a6c">17</div>
<div class="dc" style="left:359.49px;top:379.65px;width:14.00px;height:15.00px;background:#18995e">28</div>
<div class="dc" style="left:374.76px;top:379.65px;width:14.00px;height:15.00px;background:#219c5a">31</div>
<div class="dc" style="left:390.03px;top:379.65px;width:14.00px;height:15.00px;background:#0e9268">21</div>
<div class="dc" style="left:405.30px;top:379.65px;width:14.00px;height:15.00px;background:#0e8c6b">18</div>
<div class="dc" style="left:420.57px;top:379.65px;width:14.00px;height:15.00px;background:#18995e">28</div>
<div class="dc" style="left:435.84px;top:379.65px;width:14.00px;height:15.00px;background:#129764">25</div>
<div class="dc" style="left:451.11px;top:379.65px;width:14.00px;height:15.00px;background:#0e9268">21</div>
<div class="dc" style="left:466.38px;top:379.65px;width:14.00px;height:15.00px;background:#0e8a6c">17</div>
<div class="dc" style="left:481.65px;top:379.65px;width:14.00px;height:15.00px;background:#0e8c6b">18</div>
<div class="dc" style="left:496.92px;top:379.65px;width:14.00px;height:15.00px;background:#0e9268">21</div>
<div class="dc" style="left:512.19px;top:379.65px;width:14.00px;height:15.00px;background:#16985f">27</div>
<div class="dc" style="left:527.46px;top:379.65px;width:14.00px;height:15.00px;background:#2a9d57">33</div>
<div class="dc" style="left:542.73px;top:379.65px;width:14.00px;height:15.00px;background:#149761">26</div>
<div class="dc" style="left:558.00px;top:379.65px;width:14.00px;height:15.00px;background:#0f9367">22</div>
<div class="dc" style="left:573.27px;top:379.65px;width:14.00px;height:15.00px;background:#1c9b5b">30</div>
<div class="dc" style="left:588.54px;top:379.65px;width:14.00px;height:15.00px;background:#2a9d57">33</div>
<div class="dc" style="left:603.81px;top:379.65px;width:14.00px;height:15.00px;background:#0f9367">22</div>
<div class="dc" style="left:619.08px;top:379.65px;width:14.00px;height:15.00px;background:#0e9068">20</div>
<div class="dc" style="left:634.35px;top:379.65px;width:14.00px;height:15.00px;background:#329e54">35</div>
<div class="dc" style="left:649.62px;top:379.65px;width:14.00px;height:15.00px;background:#2a9d57">33</div>
<div class="dc" style="left:664.89px;top:379.65px;width:14.00px;height:15.00px;background:#149761">26</div>
<div class="dc" style="left:680.16px;top:379.65px;width:14.00px;height:15.00px;background:#369f53">36</div>
<div class="dc" style="left:695.43px;top:379.65px;width:14.00px;height:15.00px;background:#46a24f">38</div>
<div class="lab" style="left:17.20px;top:396.40px;width:20.00px;height:15.00px;"><span class="fx fl">Oct</span></div>
<div class="sbg" style="left:37.00px;top:396.40px;width:212.80px;height:15.00px;"></div>
<div class="seg" style="left:37.00px;top:396.40px;width:82.37px;height:15.00px;background:#0f787f">12</div>
<div class="seg" style="left:119.37px;top:396.40px;width:130.43px;height:15.00px;background:#129a62">19</div>
<div class="dc" style="left:252.60px;top:396.40px;width:14.00px;height:15.00px;background:#16985f">27</div>
<div class="dc" style="left:267.87px;top:396.40px;width:14.00px;height:15.00px;background:#149761">26</div>
<div class="dc" style="left:283.14px;top:396.40px;width:14.00px;height:15.00px;background:#1a9a5c">29</div>
<div class="dc" style="left:298.41px;top:396.40px;width:14.00px;height:15.00px;background:#16985f">27</div>
<div class="dc" style="left:313.68px;top:396.40px;width:14.00px;height:15.00px;background:#129764">25</div>
<div class="dc" style="left:328.95px;top:396.40px;width:14.00px;height:15.00px;background:#149761">26</div>
<div class="dc" style="left:344.22px;top:396.40px;width:14.00px;height:15.00px;background:#0f9367">22</div>
<div class="dc" style="left:359.49px;top:396.40px;width:14.00px;height:15.00px;background:#149761">26</div>
<div class="dc" style="left:374.76px;top:396.40px;width:14.00px;height:15.00px;background:#109666">24</div>
<div class="dc" style="left:390.03px;top:396.40px;width:14.00px;height:15.00px;background:#259c58">32</div>
<div class="dc" style="left:405.30px;top:396.40px;width:14.00px;height:15.00px;background:#149761">26</div>
<div class="dc" style="left:420.57px;top:396.40px;width:14.00px;height:15.00px;background:#1c9b5b">30</div>
<div class="dc" style="left:435.84px;top:396.40px;width:14.00px;height:15.00px;background:#88ae40">48</div>
<div class="dc" style="left:451.11px;top:396.40px;width:14.00px;height:15.00px;background:#329e54">35</div>
<div class="dc" style="left:466.38px;top:396.40px;width:14.00px;height:15.00px;background:#0f9367">22</div>
<div class="dc" style="left:481.65px;top:396.40px;width:14.00px;height:15.00px;background:#109466">23</div>
<div class="dc" style="left:496.92px;top:396.40px;width:14.00px;height:15.00px;background:#0e7e7d">10</div>
<div class="dc" style="left:512.19px;top:396.40px;width:14.00px;height:15.00px;background:#0f9367">22</div>
<div class="dc" style="left:527.46px;top:396.40px;width:14.00px;height:15.00px;background:#149761">26</div>
<div class="dc" style="left:542.73px;top:396.40px;width:14.00px;height:15.00px;background:#1c9b5b">30</div>
<div class="dc" style="left:558.00px;top:396.40px;width:14.00px;height:15.00px;background:#18995e">28</div>
<div class="dc" style="left:573.27px;top:396.40px;width:14.00px;height:15.00px;background:#2a9d57">33</div>
<div class="dc" style="left:588.54px;top:396.40px;width:14.00px;height:15.00px;background:#1c9b5b">30</div>
<div class="dc" style="left:603.81px;top:396.40px;width:14.00px;height:15.00px;background:#0e8a6c">17</div>
<div class="dc" style="left:619.08px;top:396.40px;width:14.00px;height:15.00px;background:#0e8c6b">18</div>
<div class="dc" style="left:634.35px;top:396.40px;width:14.00px;height:15.00px;background:#0e8670">15</div>
<div class="dc" style="left:649.62px;top:396.40px;width:14.00px;height:15.00px;background:#0d8572">14</div>
<div class="dc" style="left:664.89px;top:396.40px;width:14.00px;height:15.00px;background:#0e9268">21</div>
<div class="dc" style="left:680.16px;top:396.40px;width:14.00px;height:15.00px;background:#0f9367">22</div>
<div class="dc" style="left:695.43px;top:396.40px;width:14.00px;height:15.00px;background:#1a9a5c">29</div>
<div class="dc" style="left:710.70px;top:396.40px;width:14.00px;height:15.00px;background:#16985f">27</div>
<div class="lab" style="left:17.20px;top:413.15px;width:20.00px;height:15.00px;"><span class="fx fl">Sep</span></div>
<div class="sbg" style="left:37.00px;top:413.15px;width:212.80px;height:15.00px;"></div>
<div class="seg" style="left:37.00px;top:413.15px;width:78.03px;height:15.00px;background:#0f787f">11</div>
<div class="seg" style="left:115.03px;top:413.15px;width:134.77px;height:15.00px;background:#129a62">19</div>
<div class="dc" style="left:252.60px;top:413.15px;width:14.00px;height:15.00px;background:#2e9e56">34</div>
<div class="dc" style="left:267.87px;top:413.15px;width:14.00px;height:15.00px;background:#18995e">28</div>
<div class="dc" style="left:283.14px;top:413.15px;width:14.00px;height:15.00px;background:#1a9a5c">29</div>
<div class="dc" style="left:298.41px;top:413.15px;width:14.00px;height:15.00px;background:#149761">26</div>
<div class="dc" style="left:313.68px;top:413.15px;width:14.00px;height:15.00px;background:#109666">24</div>
<div class="dc" style="left:328.95px;top:413.15px;width:14.00px;height:15.00px;background:#0e8e69">19</div>
<div class="dc" style="left:344.22px;top:413.15px;width:14.00px;height:15.00px;background:#0f9367">22</div>
<div class="dc" style="left:359.49px;top:413.15px;width:14.00px;height:15.00px;background:#0e8e69">19</div>
<div class="dc" style="left:374.76px;top:413.15px;width:14.00px;height:15.00px;background:#129764">25</div>
<div class="dc" style="left:390.03px;top:413.15px;width:14.00px;height:15.00px;background:#329e54">35</div>
<div class="dc" style="left:405.30px;top:413.15px;width:14.00px;height:15.00px;background:#129764">25</div>
<div class="dc" style="left:420.57px;top:413.15px;width:14.00px;height:15.00px;background:#16985f">27</div>
<div class="dc" style="left:435.84px;top:413.15px;width:14.00px;height:15.00px;background:#0e886e">16</div>
<div class="dc" style="left:451.11px;top:413.15px;width:14.00px;height:15.00px;background:#0e9268">21</div>
<div class="dc" style="left:466.38px;top:413.15px;width:14.00px;height:15.00px;background:#109466">23</div>
<div class="dc" style="left:481.65px;top:413.15px;width:14.00px;height:15.00px;background:#3aa052">37</div>
<div class="dc" style="left:496.92px;top:413.15px;width:14.00px;height:15.00px;background:#7fac42">46</div>
<div class="dc" style="left:512.19px;top:413.15px;width:14.00px;height:15.00px;background:#88ae40">48</div>
<div class="dc" style="left:527.46px;top:413.15px;width:14.00px;height:15.00px;background:#6ba847">42</div>
<div class="dc" style="left:542.73px;top:413.15px;width:14.00px;height:15.00px;background:#369f53">36</div>
<div class="dc" style="left:558.00px;top:413.15px;width:14.00px;height:15.00px;background:#259c58">32</div>
<div class="dc" style="left:573.27px;top:413.15px;width:14.00px;height:15.00px;background:#0f9367">22</div>
<div class="dc" style="left:588.54px;top:413.15px;width:14.00px;height:15.00px;background:#109666">24</div>
<div class="dc" style="left:603.81px;top:413.15px;width:14.00px;height:15.00px;background:#0f9367">22</div>
<div class="dc" style="left:619.08px;top:413.15px;width:14.00px;height:15.00px;background:#109666">24</div>
<div class="dc" style="left:634.35px;top:413.15px;width:14.00px;height:15.00px;background:#219c5a">31</div>
<div class="dc" style="left:649.62px;top:413.15px;width:14.00px;height:15.00px;background:#259c58">32</div>
<div class="dc" style="left:664.89px;top:413.15px;width:14.00px;height:15.00px;background:#3aa052">37</div>
<div class="dc" style="left:680.16px;top:413.15px;width:14.00px;height:15.00px;background:#5ea64a">40</div>
<div class="dc" style="left:695.43px;top:413.15px;width:14.00px;height:15.00px;background:#52a44d">39</div>
<div class="lab" style="left:17.20px;top:429.90px;width:20.00px;height:15.00px;"><span class="fx fl">Aug</span></div>
<div class="sbg" style="left:37.00px;top:429.90px;width:212.80px;height:15.00px;"></div>
<div class="seg" style="left:37.00px;top:429.90px;width:41.19px;height:15.00px;background:#0f787f">6</div>
<div class="seg" style="left:78.19px;top:429.90px;width:171.61px;height:15.00px;background:#129a62">25</div>
<div class="dc" style="left:252.60px;top:429.90px;width:14.00px;height:15.00px;background:#129764">25</div>
<div class="dc" style="left:267.87px;top:429.90px;width:14.00px;height:15.00px;background:#149761">26</div>
<div class="dc" style="left:283.14px;top:429.90px;width:14.00px;height:15.00px;background:#46a24f">38</div>
<div class="dc" style="left:298.41px;top:429.90px;width:14.00px;height:15.00px;background:#109466">23</div>
<div class="dc" style="left:313.68px;top:429.90px;width:14.00px;height:15.00px;background:#219c5a">31</div>
<div class="dc" style="left:328.95px;top:429.90px;width:14.00px;height:15.00px;background:#7aab43">45</div>
<div class="dc" style="left:344.22px;top:429.90px;width:14.00px;height:15.00px;background:#0e886e">16</div>
<div class="dc" style="left:359.49px;top:429.90px;width:14.00px;height:15.00px;background:#16985f">27</div>
<div class="dc" style="left:374.76px;top:429.90px;width:14.00px;height:15.00px;background:#1a9a5c">29</div>
<div class="dc" style="left:390.03px;top:429.90px;width:14.00px;height:15.00px;background:#259c58">32</div>
<div class="dc" style="left:405.30px;top:429.90px;width:14.00px;height:15.00px;background:#18995e">28</div>
<div class="dc" style="left:420.57px;top:429.90px;width:14.00px;height:15.00px;background:#1a9a5c">29</div>
<div class="dc" style="left:435.84px;top:429.90px;width:14.00px;height:15.00px;background:#259c58">32</div>
<div class="dc" style="left:451.11px;top:429.90px;width:14.00px;height:15.00px;background:#109466">23</div>
<div class="dc" style="left:466.38px;top:429.90px;width:14.00px;height:15.00px;background:#0e9268">21</div>
<div class="dc" style="left:481.65px;top:429.90px;width:14.00px;height:15.00px;background:#0e8a6c">17</div>
<div class="dc" style="left:496.92px;top:429.90px;width:14.00px;height:15.00px;background:#2a9d57">33</div>
<div class="dc" style="left:512.19px;top:429.90px;width:14.00px;height:15.00px;background:#0e8670">15</div>
<div class="dc" style="left:527.46px;top:429.90px;width:14.00px;height:15.00px;background:#149761">26</div>
<div class="dc" style="left:542.73px;top:429.90px;width:14.00px;height:15.00px;background:#369f53">36</div>
<div class="dc" style="left:558.00px;top:429.90px;width:14.00px;height:15.00px;background:#259c58">32</div>
<div class="dc" style="left:573.27px;top:429.90px;width:14.00px;height:15.00px;background:#52a44d">39</div>
<div class="dc" style="left:588.54px;top:429.90px;width:14.00px;height:15.00px;background:#2e9e56">34</div>
<div class="dc" style="left:603.81px;top:429.90px;width:14.00px;height:15.00px;background:#329e54">35</div>
<div class="dc" style="left:619.08px;top:429.90px;width:14.00px;height:15.00px;background:#1a9a5c">29</div>
<div class="dc" style="left:634.35px;top:429.90px;width:14.00px;height:15.00px;background:#149761">26</div>
<div class="dc" style="left:649.62px;top:429.90px;width:14.00px;height:15.00px;background:#259c58">32</div>
<div class="dc" style="left:664.89px;top:429.90px;width:14.00px;height:15.00px;background:#149761">26</div>
<div class="dc" style="left:680.16px;top:429.90px;width:14.00px;height:15.00px;background:#149761">26</div>
<div class="dc" style="left:695.43px;top:429.90px;width:14.00px;height:15.00px;background:#0e9068">20</div>
<div class="dc" style="left:710.70px;top:429.90px;width:14.00px;height:15.00px;background:#2e9e56">34</div>
<div class="lab" style="left:17.20px;top:446.65px;width:20.00px;height:15.00px;"><span class="fx fl">Jul</span></div>
<div class="sbg" style="left:37.00px;top:446.65px;width:212.80px;height:15.00px;"></div>
<div class="seg" style="left:37.00px;top:446.65px;width:89.24px;height:15.00px;background:#0f787f">13</div>
<div class="seg" style="left:126.24px;top:446.65px;width:123.56px;height:15.00px;background:#129a62">18</div>
<div class="dc" style="left:252.60px;top:446.65px;width:14.00px;height:15.00px;background:#0e8e69">19</div>
<div class="dc" style="left:267.87px;top:446.65px;width:14.00px;height:15.00px;background:#129764">25</div>
<div class="dc" style="left:283.14px;top:446.65px;width:14.00px;height:15.00px;background:#16985f">27</div>
<div class="dc" style="left:298.41px;top:446.65px;width:14.00px;height:15.00px;background:#1a9a5c">29</div>
<div class="dc" style="left:313.68px;top:446.65px;width:14.00px;height:15.00px;background:#2e9e56">34</div>
<div class="dc" style="left:328.95px;top:446.65px;width:14.00px;height:15.00px;background:#1c9b5b">30</div>
<div class="dc" style="left:344.22px;top:446.65px;width:14.00px;height:15.00px;background:#1c9b5b">30</div>
<div class="dc" style="left:359.49px;top:446.65px;width:14.00px;height:15.00px;background:#329e54">35</div>
<div class="dc" style="left:374.76px;top:446.65px;width:14.00px;height:15.00px;background:#259c58">32</div>
<div class="dc" style="left:390.03px;top:446.65px;width:14.00px;height:15.00px;background:#259c58">32</div>
<div class="dc" style="left:405.30px;top:446.65px;width:14.00px;height:15.00px;background:#88ae40">48</div>
<div class="dc" style="left:420.57px;top:446.65px;width:14.00px;height:15.00px;background:#3aa052">37</div>
<div class="dc" style="left:435.84px;top:446.65px;width:14.00px;height:15.00px;background:#109466">23</div>
<div class="dc" style="left:451.11px;top:446.65px;width:14.00px;height:15.00px;background:#109466">23</div>
<div class="dc" style="left:466.38px;top:446.65px;width:14.00px;height:15.00px;background:#18995e">28</div>
<div class="dc" style="left:481.65px;top:446.65px;width:14.00px;height:15.00px;background:#0e8670">15</div>
<div class="dc" style="left:496.92px;top:446.65px;width:14.00px;height:15.00px;background:#0e8c6b">18</div>
<div class="dc" style="left:512.19px;top:446.65px;width:14.00px;height:15.00px;background:#0e8277">12</div>
<div class="dc" style="left:527.46px;top:446.65px;width:14.00px;height:15.00px;background:#0d8572">14</div>
<div class="dc" style="left:542.73px;top:446.65px;width:14.00px;height:15.00px;background:#0d8374">13</div>
<div class="dc" style="left:558.00px;top:446.65px;width:14.00px;height:15.00px;background:#0e8277">12</div>
<div class="dc" style="left:573.27px;top:446.65px;width:14.00px;height:15.00px;background:#0e8c6b">18</div>
<div class="dc" style="left:588.54px;top:446.65px;width:14.00px;height:15.00px;background:#329e54">35</div>
<div class="dc" style="left:603.81px;top:446.65px;width:14.00px;height:15.00px;background:#3aa052">37</div>
<div class="dc" style="left:619.08px;top:446.65px;width:14.00px;height:15.00px;background:#2e9e56">34</div>
<div class="dc" style="left:634.35px;top:446.65px;width:14.00px;height:15.00px;background:#18995e">28</div>
<div class="dc" style="left:649.62px;top:446.65px;width:14.00px;height:15.00px;background:#1c9b5b">30</div>
<div class="dc" style="left:664.89px;top:446.65px;width:14.00px;height:15.00px;background:#329e54">35</div>
<div class="dc" style="left:680.16px;top:446.65px;width:14.00px;height:15.00px;background:#0e9068">20</div>
<div class="dc" style="left:695.43px;top:446.65px;width:14.00px;height:15.00px;background:#0e8c6b">18</div>
<div class="dc" style="left:710.70px;top:446.65px;width:14.00px;height:15.00px;background:#0e8a6c">17</div>
<div class="lab" style="left:17.20px;top:463.40px;width:20.00px;height:15.00px;"><span class="fx fl">Jun</span></div>
<div class="sbg" style="left:37.00px;top:463.40px;width:212.80px;height:15.00px;"></div>
<div class="seg" style="left:37.00px;top:463.40px;width:92.21px;height:15.00px;background:#0f787f">13</div>
<div class="seg" style="left:129.21px;top:463.40px;width:120.59px;height:15.00px;background:#129a62">17</div>
<div class="dc" style="left:252.60px;top:463.40px;width:14.00px;height:15.00px;background:#0e8a6c">17</div>
<div class="dc" style="left:267.87px;top:463.40px;width:14.00px;height:15.00px;background:#0d8572">14</div>
<div class="dc" style="left:283.14px;top:463.40px;width:14.00px;height:15.00px;background:#1a9a5c">29</div>
<div class="dc" style="left:298.41px;top:463.40px;width:14.00px;height:15.00px;background:#219c5a">31</div>
<div class="dc" style="left:313.68px;top:463.40px;width:14.00px;height:15.00px;background:#5ea64a">40</div>
<div class="dc" style="left:328.95px;top:463.40px;width:14.00px;height:15.00px;background:#129764">25</div>
<div class="dc" style="left:344.22px;top:463.40px;width:14.00px;height:15.00px;background:#16985f">27</div>
<div class="dc" style="left:359.49px;top:463.40px;width:14.00px;height:15.00px;background:#219c5a">31</div>
<div class="dc" style="left:374.76px;top:463.40px;width:14.00px;height:15.00px;background:#16985f">27</div>
<div class="dc" style="left:390.03px;top:463.40px;width:14.00px;height:15.00px;background:#259c58">32</div>
<div class="dc" style="left:405.30px;top:463.40px;width:14.00px;height:15.00px;background:#46a24f">38</div>
<div class="dc" style="left:420.57px;top:463.40px;width:14.00px;height:15.00px;background:#1c9b5b">30</div>
<div class="dc" style="left:435.84px;top:463.40px;width:14.00px;height:15.00px;background:#16985f">27</div>
<div class="dc" style="left:451.11px;top:463.40px;width:14.00px;height:15.00px;background:#2e9e56">34</div>
<div class="dc" style="left:466.38px;top:463.40px;width:14.00px;height:15.00px;background:#0e8c6b">18</div>
<div class="dc" style="left:481.65px;top:463.40px;width:14.00px;height:15.00px;background:#0e8c6b">18</div>
<div class="dc" style="left:496.92px;top:463.40px;width:14.00px;height:15.00px;background:#0e8670">15</div>
<div class="dc" style="left:512.19px;top:463.40px;width:14.00px;height:15.00px;background:#0e886e">16</div>
<div class="dc" style="left:527.46px;top:463.40px;width:14.00px;height:15.00px;background:#109466">23</div>
<div class="dc" style="left:542.73px;top:463.40px;width:14.00px;height:15.00px;background:#0e9068">20</div>
<div class="dc" style="left:558.00px;top:463.40px;width:14.00px;height:15.00px;background:#0e8c6b">18</div>
<div class="dc" style="left:573.27px;top:463.40px;width:14.00px;height:15.00px;background:#0e8670">15</div>
<div class="dc" style="left:588.54px;top:463.40px;width:14.00px;height:15.00px;background:#0e8e69">19</div>
<div class="dc" style="left:603.81px;top:463.40px;width:14.00px;height:15.00px;background:#129764">25</div>
<div class="dc" style="left:619.08px;top:463.40px;width:14.00px;height:15.00px;background:#149761">26</div>
<div class="dc" style="left:634.35px;top:463.40px;width:14.00px;height:15.00px;background:#0e8e69">19</div>
<div class="dc" style="left:649.62px;top:463.40px;width:14.00px;height:15.00px;background:#0f9367">22</div>
<div class="dc" style="left:664.89px;top:463.40px;width:14.00px;height:15.00px;background:#259c58">32</div>
<div class="dc" style="left:680.16px;top:463.40px;width:14.00px;height:15.00px;background:#1c9b5b">30</div>
<div class="dc" style="left:695.43px;top:463.40px;width:14.00px;height:15.00px;background:#18995e">28</div>
<div class="lab" style="left:17.20px;top:480.15px;width:20.00px;height:15.00px;"><span class="fx fl">May</span></div>
<div class="sbg" style="left:37.00px;top:480.15px;width:212.80px;height:15.00px;"></div>
<div class="seg" style="left:37.00px;top:480.15px;width:116.70px;height:15.00px;background:#0f787f">17</div>
<div class="seg" style="left:153.70px;top:480.15px;width:96.10px;height:15.00px;background:#129a62">14</div>
<div class="dc" style="left:252.60px;top:480.15px;width:14.00px;height:15.00px;background:#109666">24</div>
<div class="dc" style="left:267.87px;top:480.15px;width:14.00px;height:15.00px;background:#1c9b5b">30</div>
<div class="dc" style="left:283.14px;top:480.15px;width:14.00px;height:15.00px;background:#109466">23</div>
<div class="dc" style="left:298.41px;top:480.15px;width:14.00px;height:15.00px;background:#76aa44">44</div>
<div class="dc" style="left:313.68px;top:480.15px;width:14.00px;height:15.00px;background:#1a9a5c">29</div>
<div class="dc" style="left:328.95px;top:480.15px;width:14.00px;height:15.00px;background:#18995e">28</div>
<div class="dc" style="left:344.22px;top:480.15px;width:14.00px;height:15.00px;background:#109466">23</div>
<div class="dc" style="left:359.49px;top:480.15px;width:14.00px;height:15.00px;background:#129764">25</div>
<div class="dc" style="left:374.76px;top:480.15px;width:14.00px;height:15.00px;background:#16985f">27</div>
<div class="dc" style="left:390.03px;top:480.15px;width:14.00px;height:15.00px;background:#3aa052">37</div>
<div class="dc" style="left:405.30px;top:480.15px;width:14.00px;height:15.00px;background:#18995e">28</div>
<div class="dc" style="left:420.57px;top:480.15px;width:14.00px;height:15.00px;background:#0e9068">20</div>
<div class="dc" style="left:435.84px;top:480.15px;width:14.00px;height:15.00px;background:#0e886e">16</div>
<div class="dc" style="left:451.11px;top:480.15px;width:14.00px;height:15.00px;background:#0e8a6c">17</div>
<div class="dc" style="left:466.38px;top:480.15px;width:14.00px;height:15.00px;background:#0f9367">22</div>
<div class="dc" style="left:481.65px;top:480.15px;width:14.00px;height:15.00px;background:#1c9b5b">30</div>
<div class="dc" style="left:496.92px;top:480.15px;width:14.00px;height:15.00px;background:#149761">26</div>
<div class="dc" style="left:512.19px;top:480.15px;width:14.00px;height:15.00px;background:#0e8e69">19</div>
<div class="dc" style="left:527.46px;top:480.15px;width:14.00px;height:15.00px;background:#0e9068">20</div>
<div class="dc" style="left:542.73px;top:480.15px;width:14.00px;height:15.00px;background:#109466">23</div>
<div class="dc" style="left:558.00px;top:480.15px;width:14.00px;height:15.00px;background:#109666">24</div>
<div class="dc" style="left:573.27px;top:480.15px;width:14.00px;height:15.00px;background:#129764">25</div>
<div class="dc" style="left:588.54px;top:480.15px;width:14.00px;height:15.00px;background:#1c9b5b">30</div>
<div class="dc" style="left:603.81px;top:480.15px;width:14.00px;height:15.00px;background:#16985f">27</div>
<div class="dc" style="left:619.08px;top:480.15px;width:14.00px;height:15.00px;background:#18995e">28</div>
<div class="dc" style="left:634.35px;top:480.15px;width:14.00px;height:15.00px;background:#0f9367">22</div>
<div class="dc" style="left:649.62px;top:480.15px;width:14.00px;height:15.00px;background:#0e886e">16</div>
<div class="dc" style="left:664.89px;top:480.15px;width:14.00px;height:15.00px;background:#0e8c6b">18</div>
<div class="dc" style="left:680.16px;top:480.15px;width:14.00px;height:15.00px;background:#109666">24</div>
<div class="dc" style="left:695.43px;top:480.15px;width:14.00px;height:15.00px;background:#0e8e69">19</div>
<div class="dc" style="left:710.70px;top:480.15px;width:14.00px;height:15.00px;background:#0e886e">16</div>
<div class="lab" style="left:17.20px;top:496.90px;width:20.00px;height:15.00px;"><span class="fx fl">Apr</span></div>
<div class="sbg" style="left:37.00px;top:496.90px;width:212.80px;height:15.00px;"></div>
<div class="seg" style="left:37.00px;top:496.90px;width:120.59px;height:15.00px;background:#0f787f">17</div>
<div class="seg" style="left:157.59px;top:496.90px;width:85.12px;height:15.00px;background:#129a62">12</div>
<div class="dc" style="left:252.60px;top:496.90px;width:14.00px;height:15.00px;background:#0e8e69">19</div>
<div class="dc" style="left:267.87px;top:496.90px;width:14.00px;height:15.00px;background:#0e886e">16</div>
<div class="dc" style="left:283.14px;top:496.90px;width:14.00px;height:15.00px;background:#0d8572">14</div>
<div class="dc" style="left:298.41px;top:496.90px;width:14.00px;height:15.00px;background:#0e9268">21</div>
<div class="dc" style="left:313.68px;top:496.90px;width:14.00px;height:15.00px;background:#0d8572">14</div>
<div class="dc" style="left:328.95px;top:496.90px;width:14.00px;height:15.00px;background:#0e8670">15</div>
<div class="dc" style="left:344.22px;top:496.90px;width:14.00px;height:15.00px;background:#0e9268">21</div>
<div class="dc" style="left:359.49px;top:496.90px;width:14.00px;height:15.00px;background:#0e9068">20</div>
<div class="dc" style="left:374.76px;top:496.90px;width:14.00px;height:15.00px;background:#0e886e">16</div>
<div class="dc" style="left:390.03px;top:496.90px;width:14.00px;height:15.00px;background:#0f9367">22</div>
<div class="dc" style="left:405.30px;top:496.90px;width:14.00px;height:15.00px;background:#0e8e69">19</div>
<div class="dc" style="left:420.57px;top:496.90px;width:14.00px;height:15.00px;background:#0f9367">22</div>
<div class="dc miss" style="left:435.84px;top:496.90px;width:14.00px;height:15.00px;">-</div>
<div class="dc" style="left:451.11px;top:496.90px;width:14.00px;height:15.00px;background:#46a24f">38</div>
<div class="dc" style="left:466.38px;top:496.90px;width:14.00px;height:15.00px;background:#3aa052">37</div>
<div class="dc" style="left:481.65px;top:496.90px;width:14.00px;height:15.00px;background:#18995e">28</div>
<div class="dc" style="left:496.92px;top:496.90px;width:14.00px;height:15.00px;background:#0e9268">21</div>
<div class="dc" style="left:512.19px;top:496.90px;width:14.00px;height:15.00px;background:#259c58">32</div>
<div class="dc" style="left:527.46px;top:496.90px;width:14.00px;height:15.00px;background:#259c58">32</div>
<div class="dc" style="left:542.73px;top:496.90px;width:14.00px;height:15.00px;background:#369f53">36</div>
<div class="dc" style="left:558.00px;top:496.90px;width:14.00px;height:15.00px;background:#2a9d57">33</div>
<div class="dc" style="left:573.27px;top:496.90px;width:14.00px;height:15.00px;background:#369f53">36</div>
<div class="dc" style="left:588.54px;top:496.90px;width:14.00px;height:15.00px;background:#0e9268">21</div>
<div class="dc" style="left:603.81px;top:496.90px;width:14.00px;height:15.00px;background:#109466">23</div>
<div class="dc" style="left:619.08px;top:496.90px;width:14.00px;height:15.00px;background:#0f9367">22</div>
<div class="dc" style="left:634.35px;top:496.90px;width:14.00px;height:15.00px;background:#109466">23</div>
<div class="dc" style="left:649.62px;top:496.90px;width:14.00px;height:15.00px;background:#149761">26</div>
<div class="dc" style="left:664.89px;top:496.90px;width:14.00px;height:15.00px;background:#1c9b5b">30</div>
<div class="dc" style="left:680.16px;top:496.90px;width:14.00px;height:15.00px;background:#329e54">35</div>
<div class="dc" style="left:695.43px;top:496.90px;width:14.00px;height:15.00px;background:#2a9d57">33</div>
<div class="lab" style="left:17.20px;top:513.65px;width:20.00px;height:15.00px;"><span class="fx fl">Mar</span></div>
<div class="sbg" style="left:37.00px;top:513.65px;width:212.80px;height:15.00px;"></div>
<div class="seg" style="left:37.00px;top:513.65px;width:137.29px;height:15.00px;background:#0f787f">20</div>
<div class="seg" style="left:174.29px;top:513.65px;width:75.51px;height:15.00px;background:#129a62">11</div>
<div class="dc" style="left:252.60px;top:513.65px;width:14.00px;height:15.00px;background:#149761">26</div>
<div class="dc" style="left:267.87px;top:513.65px;width:14.00px;height:15.00px;background:#259c58">32</div>
<div class="dc" style="left:283.14px;top:513.65px;width:14.00px;height:15.00px;background:#46a24f">38</div>
<div class="dc" style="left:298.41px;top:513.65px;width:14.00px;height:15.00px;background:#149761">26</div>
<div class="dc" style="left:313.68px;top:513.65px;width:14.00px;height:15.00px;background:#1c9b5b">30</div>
<div class="dc" style="left:328.95px;top:513.65px;width:14.00px;height:15.00px;background:#129764">25</div>
<div class="dc" style="left:344.22px;top:513.65px;width:14.00px;height:15.00px;background:#0e8a6c">17</div>
<div class="dc" style="left:359.49px;top:513.65px;width:14.00px;height:15.00px;background:#0e8c6b">18</div>
<div class="dc" style="left:374.76px;top:513.65px;width:14.00px;height:15.00px;background:#109466">23</div>
<div class="dc" style="left:390.03px;top:513.65px;width:14.00px;height:15.00px;background:#109666">24</div>
<div class="dc" style="left:405.30px;top:513.65px;width:14.00px;height:15.00px;background:#0e8e69">19</div>
<div class="dc" style="left:420.57px;top:513.65px;width:14.00px;height:15.00px;background:#0e9268">21</div>
<div class="dc" style="left:435.84px;top:513.65px;width:14.00px;height:15.00px;background:#0f9367">22</div>
<div class="dc" style="left:451.11px;top:513.65px;width:14.00px;height:15.00px;background:#0e8c6b">18</div>
<div class="dc" style="left:466.38px;top:513.65px;width:14.00px;height:15.00px;background:#0d8572">14</div>
<div class="dc" style="left:481.65px;top:513.65px;width:14.00px;height:15.00px;background:#109466">23</div>
<div class="dc" style="left:496.92px;top:513.65px;width:14.00px;height:15.00px;background:#0e9268">21</div>
<div class="dc" style="left:512.19px;top:513.65px;width:14.00px;height:15.00px;background:#0f9367">22</div>
<div class="dc" style="left:527.46px;top:513.65px;width:14.00px;height:15.00px;background:#1a9a5c">29</div>
<div class="dc" style="left:542.73px;top:513.65px;width:14.00px;height:15.00px;background:#16985f">27</div>
<div class="dc" style="left:558.00px;top:513.65px;width:14.00px;height:15.00px;background:#149761">26</div>
<div class="dc" style="left:573.27px;top:513.65px;width:14.00px;height:15.00px;background:#129764">25</div>
<div class="dc" style="left:588.54px;top:513.65px;width:14.00px;height:15.00px;background:#109466">23</div>
<div class="dc" style="left:603.81px;top:513.65px;width:14.00px;height:15.00px;background:#129764">25</div>
<div class="dc" style="left:619.08px;top:513.65px;width:14.00px;height:15.00px;background:#259c58">32</div>
<div class="dc" style="left:634.35px;top:513.65px;width:14.00px;height:15.00px;background:#0f9367">22</div>
<div class="dc" style="left:649.62px;top:513.65px;width:14.00px;height:15.00px;background:#0f9367">22</div>
<div class="dc" style="left:664.89px;top:513.65px;width:14.00px;height:15.00px;background:#0e9268">21</div>
<div class="dc" style="left:680.16px;top:513.65px;width:14.00px;height:15.00px;background:#0e8e69">19</div>
<div class="dc" style="left:695.43px;top:513.65px;width:14.00px;height:15.00px;background:#0d8374">13</div>
<div class="dc" style="left:710.70px;top:513.65px;width:14.00px;height:15.00px;background:#0e8e69">19</div>
<div class="lab" style="left:17.20px;top:530.40px;width:20.00px;height:15.00px;"><span class="fx fl">Feb</span></div>
<div class="sbg" style="left:37.00px;top:530.40px;width:212.80px;height:15.00px;"></div>
<div class="seg" style="left:37.00px;top:530.40px;width:80.72px;height:15.00px;background:#0f787f">11</div>
<div class="seg" style="left:117.72px;top:530.40px;width:117.41px;height:15.00px;background:#129a62">16</div>
<div class="dc" style="left:252.60px;top:530.40px;width:14.00px;height:15.00px;background:#0f9367">22</div>
<div class="dc" style="left:267.87px;top:530.40px;width:14.00px;height:15.00px;background:#66a748">41</div>
<div class="dc" style="left:283.14px;top:530.40px;width:14.00px;height:15.00px;background:#1c9b5b">30</div>
<div class="dc" style="left:298.41px;top:530.40px;width:14.00px;height:15.00px;background:#0e9068">20</div>
<div class="dc" style="left:313.68px;top:530.40px;width:14.00px;height:15.00px;background:#109666">24</div>
<div class="dc" style="left:328.95px;top:530.40px;width:14.00px;height:15.00px;background:#369f53">36</div>
<div class="dc" style="left:344.22px;top:530.40px;width:14.00px;height:15.00px;background:#109666">24</div>
<div class="dc" style="left:359.49px;top:530.40px;width:14.00px;height:15.00px;background:#16985f">27</div>
<div class="dc" style="left:374.76px;top:530.40px;width:14.00px;height:15.00px;background:#2a9d57">33</div>
<div class="dc" style="left:390.03px;top:530.40px;width:14.00px;height:15.00px;background:#109666">24</div>
<div class="dc" style="left:405.30px;top:530.40px;width:14.00px;height:15.00px;background:#1c9b5b">30</div>
<div class="dc" style="left:420.57px;top:530.40px;width:14.00px;height:15.00px;background:#0e9268">21</div>
<div class="dc" style="left:435.84px;top:530.40px;width:14.00px;height:15.00px;background:#109466">23</div>
<div class="dc" style="left:451.11px;top:530.40px;width:14.00px;height:15.00px;background:#1c9b5b">30</div>
<div class="dc" style="left:466.38px;top:530.40px;width:14.00px;height:15.00px;background:#18995e">28</div>
<div class="dc" style="left:481.65px;top:530.40px;width:14.00px;height:15.00px;background:#219c5a">31</div>
<div class="dc" style="left:496.92px;top:530.40px;width:14.00px;height:15.00px;background:#16985f">27</div>
<div class="dc" style="left:512.19px;top:530.40px;width:14.00px;height:15.00px;background:#1a9a5c">29</div>
<div class="dc" style="left:527.46px;top:530.40px;width:14.00px;height:15.00px;background:#129764">25</div>
<div class="dc" style="left:542.73px;top:530.40px;width:14.00px;height:15.00px;background:#109666">24</div>
<div class="dc" style="left:558.00px;top:530.40px;width:14.00px;height:15.00px;background:#0e8670">15</div>
<div class="dc" style="left:573.27px;top:530.40px;width:14.00px;height:15.00px;background:#0e8a6c">17</div>
<div class="dc" style="left:588.54px;top:530.40px;width:14.00px;height:15.00px;background:#0e807a">11</div>
<div class="dc miss" style="left:603.81px;top:530.40px;width:14.00px;height:15.00px;">-</div>
<div class="dc miss" style="left:619.08px;top:530.40px;width:14.00px;height:15.00px;">-</div>
<div class="dc" style="left:634.35px;top:530.40px;width:14.00px;height:15.00px;background:#129764">25</div>
<div class="dc" style="left:649.62px;top:530.40px;width:14.00px;height:15.00px;background:#129764">25</div>
<div class="dc" style="left:664.89px;top:530.40px;width:14.00px;height:15.00px;background:#149761">26</div>
<div class="dc" style="left:680.16px;top:530.40px;width:14.00px;height:15.00px;background:#1a9a5c">29</div>
<div class="lab" style="left:17.20px;top:547.15px;width:20.00px;height:15.00px;"><span class="fx fl">Jan</span></div>
<div class="sbg" style="left:37.00px;top:547.15px;width:212.80px;height:15.00px;"></div>
<div class="seg" style="left:37.00px;top:547.15px;width:6.86px;height:15.00px;background:#0f787f">1</div>
<div class="seg" style="left:43.86px;top:547.15px;width:34.32px;height:15.00px;background:#129a62">5</div>
<div class="dc miss" style="left:252.60px;top:547.15px;width:14.00px;height:15.00px;">-</div>
<div class="dc" style="left:267.87px;top:547.15px;width:14.00px;height:15.00px;background:#2e9e56">34</div>
<div class="dc" style="left:283.14px;top:547.15px;width:14.00px;height:15.00px;background:#0e9268">21</div>
<div class="dc" style="left:298.41px;top:547.15px;width:14.00px;height:15.00px;background:#52a44d">39</div>
<div class="dc" style="left:313.68px;top:547.15px;width:14.00px;height:15.00px;background:#5ea64a">40</div>
<div class="dc" style="left:328.95px;top:547.15px;width:14.00px;height:15.00px;background:#329e54">35</div>
<div class="dc" style="left:344.22px;top:547.15px;width:14.00px;height:15.00px;background:#6ba847">42</div>
<div class="dc miss" style="left:359.49px;top:547.15px;width:14.00px;height:15.00px;">-</div>
<div class="dc miss" style="left:374.76px;top:547.15px;width:14.00px;height:15.00px;">-</div>
<div class="dc miss" style="left:390.03px;top:547.15px;width:14.00px;height:15.00px;">-</div>
<div class="dc miss" style="left:405.30px;top:547.15px;width:14.00px;height:15.00px;">-</div>
<div class="dc miss" style="left:420.57px;top:547.15px;width:14.00px;height:15.00px;">-</div>
<div class="dc miss" style="left:435.84px;top:547.15px;width:14.00px;height:15.00px;">-</div>
<div class="dc miss" style="left:451.11px;top:547.15px;width:14.00px;height:15.00px;">-</div>
<div class="dc miss" style="left:466.38px;top:547.15px;width:14.00px;height:15.00px;">-</div>
<div class="dc miss" style="left:481.65px;top:547.15px;width:14.00px;height:15.00px;">-</div>
<div class="dc miss" style="left:496.92px;top:547.15px;width:14.00px;height:15.00px;">-</div>
<div class="dc miss" style="left:512.19px;top:547.15px;width:14.00px;height:15.00px;">-</div>
<div class="dc miss" style="left:527.46px;top:547.15px;width:14.00px;height:15.00px;">-</div>
<div class="dc miss" style="left:542.73px;top:547.15px;width:14.00px;height:15.00px;">-</div>
<div class="dc miss" style="left:558.00px;top:547.15px;width:14.00px;height:15.00px;">-</div>
<div class="dc miss" style="left:573.27px;top:547.15px;width:14.00px;height:15.00px;">-</div>
<div class="dc miss" style="left:588.54px;top:547.15px;width:14.00px;height:15.00px;">-</div>
<div class="dc miss" style="left:603.81px;top:547.15px;width:14.00px;height:15.00px;">-</div>
<div class="dc miss" style="left:619.08px;top:547.15px;width:14.00px;height:15.00px;">-</div>
<div class="dc miss" style="left:634.35px;top:547.15px;width:14.00px;height:15.00px;">-</div>
<div class="dc miss" style="left:649.62px;top:547.15px;width:14.00px;height:15.00px;">-</div>
<div class="dc miss" style="left:664.89px;top:547.15px;width:14.00px;height:15.00px;">-</div>
<div class="dc miss" style="left:680.16px;top:547.15px;width:14.00px;height:15.00px;">-</div>
<div class="dc miss" style="left:695.43px;top:547.15px;width:14.00px;height:15.00px;">-</div>
<div class="dc miss" style="left:710.70px;top:547.15px;width:14.00px;height:15.00px;">-</div>
<div class="yr" style="left:16.40px;top:562.30px;width:708.40px;height:13.60px;"><span class="fx fxl">2019</span></div>
<div class="lab" style="left:17.20px;top:576.60px;width:20.00px;height:15.00px;"><span class="fx fl">Dec</span></div>
<div class="sbg" style="left:37.00px;top:576.60px;width:212.80px;height:15.00px;"></div>
<div class="seg" style="left:37.00px;top:576.60px;width:13.73px;height:15.00px;background:#129a62">2</div>
<div class="dc miss" style="left:252.60px;top:576.60px;width:14.00px;height:15.00px;">-</div>
<div class="dc miss" style="left:267.87px;top:576.60px;width:14.00px;height:15.00px;">-</div>
<div class="dc miss" style="left:283.14px;top:576.60px;width:14.00px;height:15.00px;">-</div>
<div class="dc miss" style="left:298.41px;top:576.60px;width:14.00px;height:15.00px;">-</div>
<div class="dc miss" style="left:313.68px;top:576.60px;width:14.00px;height:15.00px;">-</div>
<div class="dc miss" style="left:328.95px;top:576.60px;width:14.00px;height:15.00px;">-</div>
<div class="dc miss" style="left:344.22px;top:576.60px;width:14.00px;height:15.00px;">-</div>
<div class="dc miss" style="left:359.49px;top:576.60px;width:14.00px;height:15.00px;">-</div>
<div class="dc miss" style="left:374.76px;top:576.60px;width:14.00px;height:15.00px;">-</div>
<div class="dc miss" style="left:390.03px;top:576.60px;width:14.00px;height:15.00px;">-</div>
<div class="dc miss" style="left:405.30px;top:576.60px;width:14.00px;height:15.00px;">-</div>
<div class="dc miss" style="left:420.57px;top:576.60px;width:14.00px;height:15.00px;">-</div>
<div class="dc miss" style="left:435.84px;top:576.60px;width:14.00px;height:15.00px;">-</div>
<div class="dc miss" style="left:451.11px;top:576.60px;width:14.00px;height:15.00px;">-</div>
<div class="dc miss" style="left:466.38px;top:576.60px;width:14.00px;height:15.00px;">-</div>
<div class="dc miss" style="left:481.65px;top:576.60px;width:14.00px;height:15.00px;">-</div>
<div class="dc miss" style="left:496.92px;top:576.60px;width:14.00px;height:15.00px;">-</div>
<div class="dc miss" style="left:512.19px;top:576.60px;width:14.00px;height:15.00px;">-</div>
<div class="dc miss" style="left:527.46px;top:576.60px;width:14.00px;height:15.00px;">-</div>
<div class="dc miss" style="left:542.73px;top:576.60px;width:14.00px;height:15.00px;">-</div>
<div class="dc miss" style="left:558.00px;top:576.60px;width:14.00px;height:15.00px;">-</div>
<div class="dc miss" style="left:573.27px;top:576.60px;width:14.00px;height:15.00px;">-</div>
<div class="dc miss" style="left:588.54px;top:576.60px;width:14.00px;height:15.00px;">-</div>
<div class="dc miss" style="left:603.81px;top:576.60px;width:14.00px;height:15.00px;">-</div>
<div class="dc miss" style="left:619.08px;top:576.60px;width:14.00px;height:15.00px;">-</div>
<div class="dc miss" style="left:634.35px;top:576.60px;width:14.00px;height:15.00px;">-</div>
<div class="dc miss" style="left:649.62px;top:576.60px;width:14.00px;height:15.00px;">-</div>
<div class="dc miss" style="left:664.89px;top:576.60px;width:14.00px;height:15.00px;">-</div>
<div class="dc" style="left:680.16px;top:576.60px;width:14.00px;height:15.00px;background:#1a9a5c">29</div>
<div class="dc" style="left:695.43px;top:576.60px;width:14.00px;height:15.00px;background:#1c9b5b">30</div>
<div class="dc miss" style="left:710.70px;top:576.60px;width:14.00px;height:15.00px;">-</div>
</div>
<div class="t" style="top:604.9px;font-size:11.45px;margin-left:-0.4px"><span class="fx">Note: the daily AQI is based on the 24 hours average of hourly readings.</span></div>
<script>
(function(){
var t=document.getElementById('ttl');if(!t)return;
var w=t.getBoundingClientRect().width;if(!w)return;
var r=378.09/w;if(Math.abs(r-1)<0.012)return;
var a=document.querySelectorAll('.fx');
for(var i=0;i<a.length;i++){var e=a[i];var b=e.classList.contains('fl')?0.87:1;e.style.transform='scaleX('+(b*r).toFixed(4)+')';}
})();
</script>
</body></html>
